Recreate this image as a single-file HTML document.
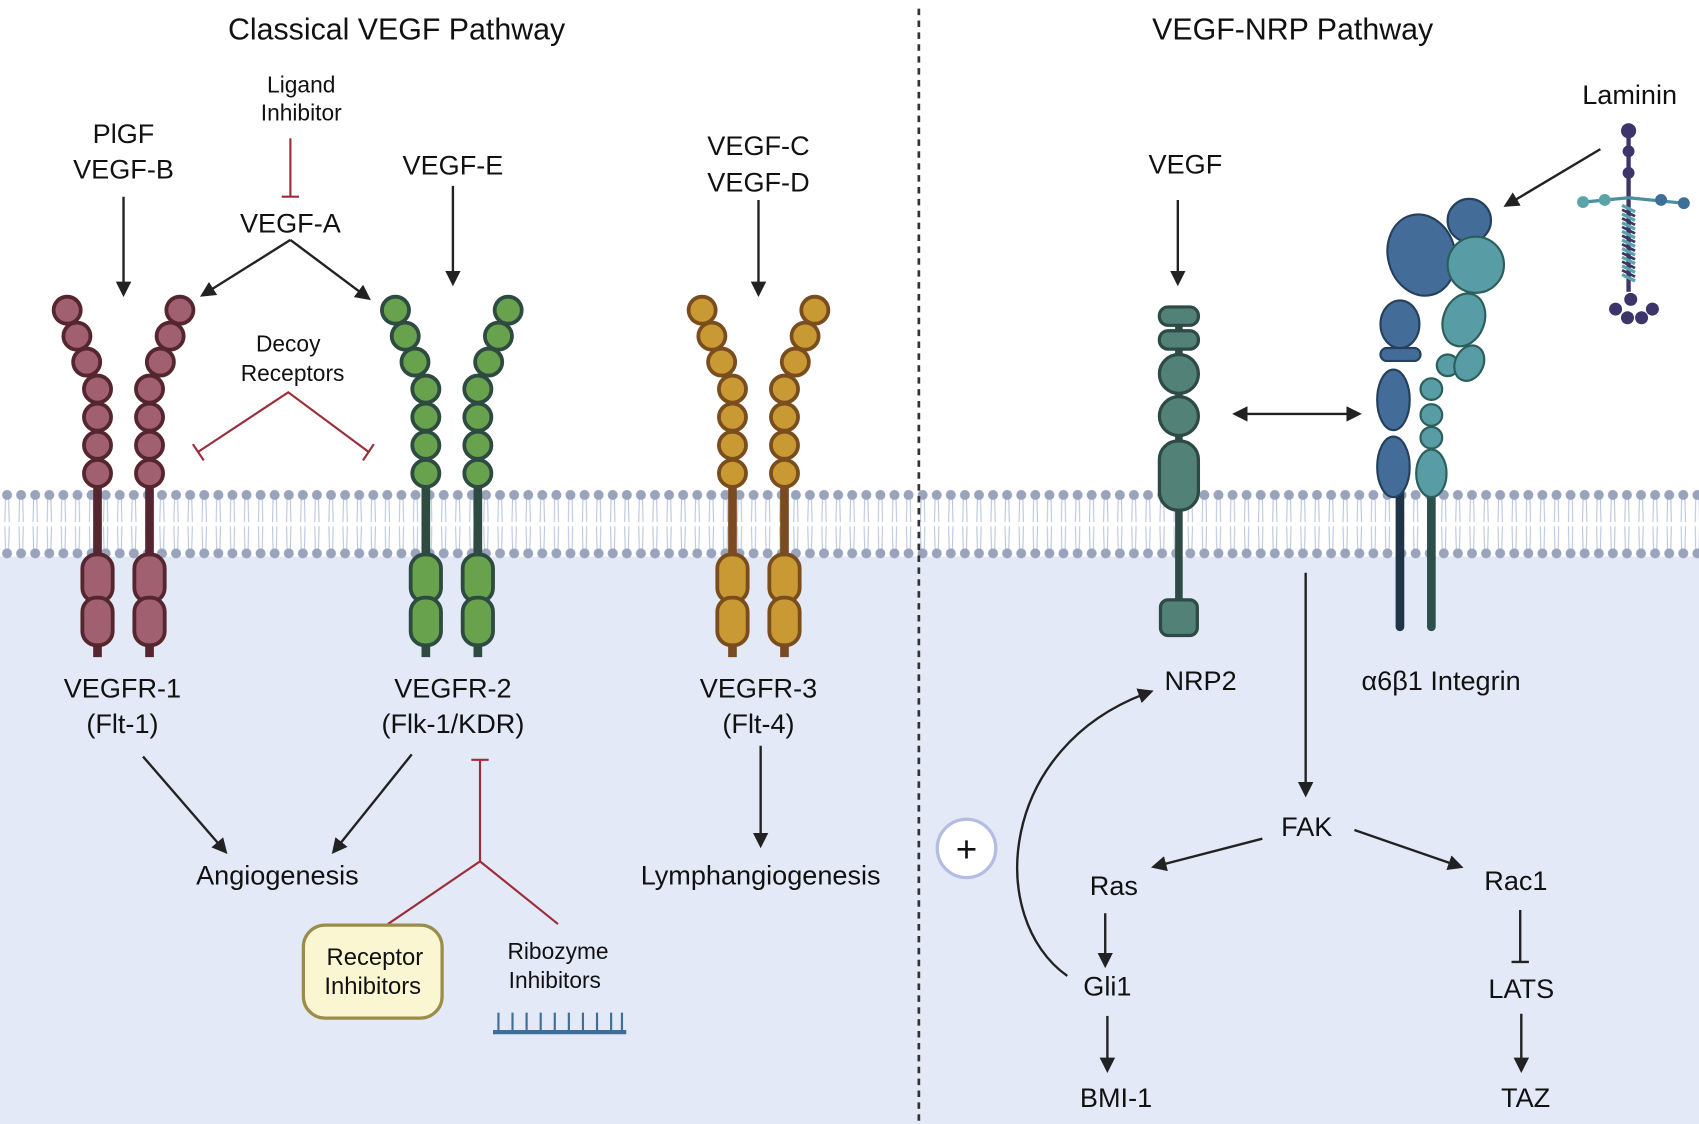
<!DOCTYPE html>
<html><head><meta charset="utf-8"><style>
html,body{margin:0;padding:0;background:#fff;}
svg{display:block;}
text{font-family:"Liberation Sans",sans-serif;fill:#111;}
</style></head><body>
<svg id="s" width="1699" height="1124" viewBox="0 0 1568 1040" preserveAspectRatio="none" xmlns="http://www.w3.org/2000/svg">
<defs>
<marker id="ah" viewBox="0 0 10 10" refX="8" refY="5" markerWidth="6.5" markerHeight="6.5" orient="auto-start-reverse"><path d="M0,0 L10,5 L0,10 z" fill="#222"/></marker>
<pattern id="mem" x="0" y="453" width="13" height="64" patternUnits="userSpaceOnUse">
<path d="M5,9 L4.5,30 M8,9 L8.5,30 M4.5,34 L5,55 M8.5,34 L8,55" stroke="#b9c6de" stroke-width="1" fill="none"/>
<circle cx="6.5" cy="5" r="4.6" fill="#99a3bb"/><circle cx="6.5" cy="59" r="4.6" fill="#99a3bb"/>
</pattern>
</defs>
<rect x="0" y="0" width="1568" height="1040" fill="#fff"/>
<rect x="0" y="515" width="1568" height="525" fill="#e3e9f7"/>
<rect x="0" y="453" width="1568" height="64" fill="url(#mem)"/>
<line x1="848" y1="8" x2="848" y2="1040" stroke="#333" stroke-width="2.5" stroke-dasharray="6,5"/>
<g id="rec"></g>

<!-- NRP2 -->
<g stroke="#2e4a45" stroke-width="3" fill="#528178">
<line x1="1088" y1="300" x2="1088" y2="560" stroke-width="7"/>
<rect x="1070" y="284" width="36" height="17" rx="8"/>
<rect x="1070" y="306" width="36" height="17" rx="8"/>
<circle cx="1088" cy="346" r="18"/>
<circle cx="1088" cy="385" r="18"/>
<rect x="1070" y="408" width="36" height="64" rx="17"/>
<rect x="1071" y="555" width="34" height="33" rx="7"/>
</g>
<!-- integrin -->
<g stroke-width="2">
<line x1="1292" y1="440" x2="1292" y2="580" stroke="#1f3447" stroke-width="8" stroke-linecap="round"/>
<line x1="1321" y1="440" x2="1321" y2="580" stroke="#2c4f4c" stroke-width="8" stroke-linecap="round"/>
<g fill="#436d98" stroke="#24405c">
<ellipse cx="1286" cy="432" rx="15" ry="28"/>
<ellipse cx="1286" cy="370" rx="15" ry="28"/>
<rect x="1274" y="322" width="37" height="12" rx="6"/>
<ellipse cx="1292" cy="300" rx="18" ry="22"/>
<ellipse cx="1312" cy="236" rx="31" ry="38" transform="rotate(-15 1312 236)"/>
<circle cx="1356" cy="204" r="20"/>
</g>
<g fill="#589ca5" stroke="#2c5e5c">
<ellipse cx="1321" cy="438" rx="14" ry="22"/>
<circle cx="1321" cy="405" r="10"/>
<circle cx="1321" cy="384" r="10"/>
<circle cx="1321" cy="360" r="10"/>
<circle cx="1336" cy="338" r="10"/>
<ellipse cx="1356" cy="336" rx="13" ry="17" transform="rotate(25 1356 336)"/>
<ellipse cx="1351" cy="296" rx="19" ry="25" transform="rotate(20 1351 296)"/>
<circle cx="1362" cy="245" r="26"/>
</g>
</g>
<!-- laminin -->
<g>
<line x1="1503" y1="121" x2="1503" y2="270" stroke="#3b3569" stroke-width="4"/>
<path d="M1461,187 L1503,183 L1554,188" stroke="#4a8fa0" stroke-width="3" fill="none"/>
<path d="M1497,190 L1509,196 M1497,198 L1509,204 M1497,206 L1509,212 M1497,214 L1509,220 M1497,222 L1509,228 M1497,230 L1509,236 M1497,238 L1509,244 M1497,246 L1509,252 M1497,254 L1509,260" stroke="#5aa4a8" stroke-width="3"/>
<path d="M1497,194 L1509,200 M1497,202 L1509,208 M1497,210 L1509,216 M1497,218 L1509,224 M1497,226 L1509,232 M1497,234 L1509,240 M1497,242 L1509,248 M1497,250 L1509,256" stroke="#3b3569" stroke-width="2.5"/>
<g fill="#3b3569"><circle cx="1503" cy="121" r="7"/><circle cx="1503" cy="140" r="5.5"/><circle cx="1503" cy="160" r="5.5"/>
<circle cx="1505" cy="277" r="6"/><circle cx="1491" cy="286" r="6"/><circle cx="1525" cy="286" r="6"/><circle cx="1502" cy="294" r="6"/><circle cx="1515" cy="294" r="6"/></g>
<g fill="#5aa4a8"><circle cx="1461" cy="187" r="5.5"/><circle cx="1481" cy="185" r="5.5"/></g>
<g fill="#3d6f98"><circle cx="1533" cy="185" r="5.5"/><circle cx="1554" cy="188" r="5.5"/></g>
</g>

<!-- arrows -->
<g stroke="#222" stroke-width="2.2" fill="none" marker-end="url(#ah)">
<line x1="114" y1="182" x2="114" y2="272"/>
<line x1="268" y1="222" x2="187" y2="273"/>
<line x1="268" y1="222" x2="340" y2="276"/>
<line x1="418" y1="172" x2="418" y2="262"/>
<line x1="700" y1="185" x2="700" y2="272"/>
<line x1="132" y1="700" x2="208" y2="788"/>
<line x1="380" y1="698" x2="308" y2="788"/>
<line x1="702" y1="690" x2="702" y2="782"/>
<line x1="1087" y1="185" x2="1087" y2="262"/>
<line x1="1140" y1="383" x2="1254" y2="383" marker-start="url(#ah)"/>
<line x1="1205" y1="530" x2="1205" y2="735"/>
<line x1="1165" y1="776" x2="1065" y2="802"/>
<line x1="1250" y1="768" x2="1348" y2="802"/>
<line x1="1020" y1="845" x2="1020" y2="893"/>
<line x1="1022" y1="940" x2="1022" y2="990"/>
<line x1="1404" y1="938" x2="1404" y2="990"/>
<line x1="1477" y1="138" x2="1390" y2="190"/>
<path d="M985,903 C910,850 920,690 1062,640"/>
</g>
<g stroke="#222" stroke-width="2.2" fill="none">
<line x1="1403" y1="842" x2="1403" y2="890"/><line x1="1395" y1="890" x2="1411" y2="890"/>
</g>
<!-- red inhibitors -->
<g stroke="#9c2e3a" stroke-width="2" fill="none">
<line x1="268" y1="128" x2="268" y2="182"/><line x1="260" y1="182" x2="276" y2="182"/>
<path d="M183,418 L266,363 L340,418"/>
<line x1="178" y1="411" x2="188" y2="426"/><line x1="345" y1="411" x2="335" y2="426"/>
<path d="M443,703 L443,797 M358,855 L443,797 L515,855"/><line x1="435" y1="703" x2="451" y2="703"/>
</g>
<rect x="280" y="856" width="128" height="86" rx="20" fill="#fbf6d2" stroke="#9b8c4a" stroke-width="3"/>
<g stroke="#3d6f98" stroke-width="2"><line x1="455" y1="955" x2="578" y2="955" stroke-width="4"/>
<path d="M460,953 V937 M473,953 V937 M486,953 V937 M499,953 V937 M512,953 V937 M525,953 V937 M538,953 V937 M551,953 V937 M564,953 V937 M574,953 V937"/></g>
<circle cx="892" cy="785" r="27" fill="#fff" stroke="#b3bce2" stroke-width="3"/>
<text x="892" y="786" font-size="34" text-anchor="middle" dominant-baseline="central">+</text>

<g text-anchor="middle" dominant-baseline="central">
<text x="366" y="28" font-size="28">Classical VEGF Pathway</text>
<text x="1193" y="28" font-size="28">VEGF-NRP Pathway</text>
<text x="278" y="78" font-size="21">Ligand</text><text x="278" y="104" font-size="21">Inhibitor</text>
<text x="114" y="124" font-size="25">PlGF</text><text x="114" y="157" font-size="25">VEGF-B</text>
<text x="268" y="207" font-size="25">VEGF-A</text>
<text x="418" y="153" font-size="25">VEGF-E</text>
<text x="700" y="135" font-size="25">VEGF-C</text><text x="700" y="169" font-size="25">VEGF-D</text>
<text x="266" y="318" font-size="21">Decoy</text><text x="270" y="345" font-size="21">Receptors</text>
<text x="113" y="637" font-size="25">VEGFR-1</text><text x="113" y="670" font-size="25">(Flt-1)</text>
<text x="418" y="637" font-size="25">VEGFR-2</text><text x="418" y="670" font-size="25">(Flk-1/KDR)</text>
<text x="700" y="637" font-size="25">VEGFR-3</text><text x="700" y="670" font-size="25">(Flt-4)</text>
<text x="256" y="810" font-size="25">Angiogenesis</text>
<text x="702" y="810" font-size="25">Lymphangiogenesis</text>
<text x="346" y="886" font-size="22">Receptor</text><text x="344" y="913" font-size="22">Inhibitors</text>
<text x="515" y="880" font-size="21">Ribozyme</text><text x="512" y="907" font-size="21">Inhibitors</text>
<text x="1504" y="88" font-size="25">Laminin</text>
<text x="1094" y="152" font-size="25">VEGF</text>
<text x="1108" y="630" font-size="25">NRP2</text>
<text x="1330" y="630" font-size="25">α6β1 Integrin</text>
<text x="1206" y="765" font-size="25">FAK</text>
<text x="1028" y="820" font-size="25">Ras</text>
<text x="1399" y="815" font-size="25">Rac1</text>
<text x="1022" y="913" font-size="25">Gli1</text>
<text x="1404" y="915" font-size="25">LATS</text>
<text x="1030" y="1016" font-size="25">BMI-1</text>
<text x="1408" y="1016" font-size="25">TAZ</text>
</g>
</svg>
<script>
(function(){
var g=document.getElementById('rec'),out='';
function chain(x,dir,fill,stroke,stick){
 var xs=[x-28*dir,x-19*dir,x-10*dir,x,x,x,x],ys=[287,311,335,360,386,412,438];
 out+='<line x1="'+x+'" y1="440" x2="'+x+'" y2="608" stroke="'+stick+'" stroke-width="8"/>';
 for(var i=0;i<7;i++)out+='<circle cx="'+xs[i]+'" cy="'+ys[i]+'" r="12.5" fill="'+fill+'" stroke="'+stroke+'" stroke-width="3.5"/>';
 out+='<rect x="'+(x-14)+'" y="513" width="28" height="44" rx="13" fill="'+fill+'" stroke="'+stroke+'" stroke-width="3.5"/>';
 out+='<rect x="'+(x-14)+'" y="553" width="28" height="44" rx="13" fill="'+fill+'" stroke="'+stroke+'" stroke-width="3.5"/>';
}
var R=[[90,138,'#a0606f','#55262f','#55262f'],[393,441,'#69a24d','#2e4b42','#2e4b42'],[676,724,'#c99a34','#7a4d1e','#7a4a22']];
R.forEach(function(r){chain(r[0],1,r[2],r[3],r[4]);chain(r[1],-1,r[2],r[3],r[4]);});
g.innerHTML=out;
})();
</script>
</body></html>
